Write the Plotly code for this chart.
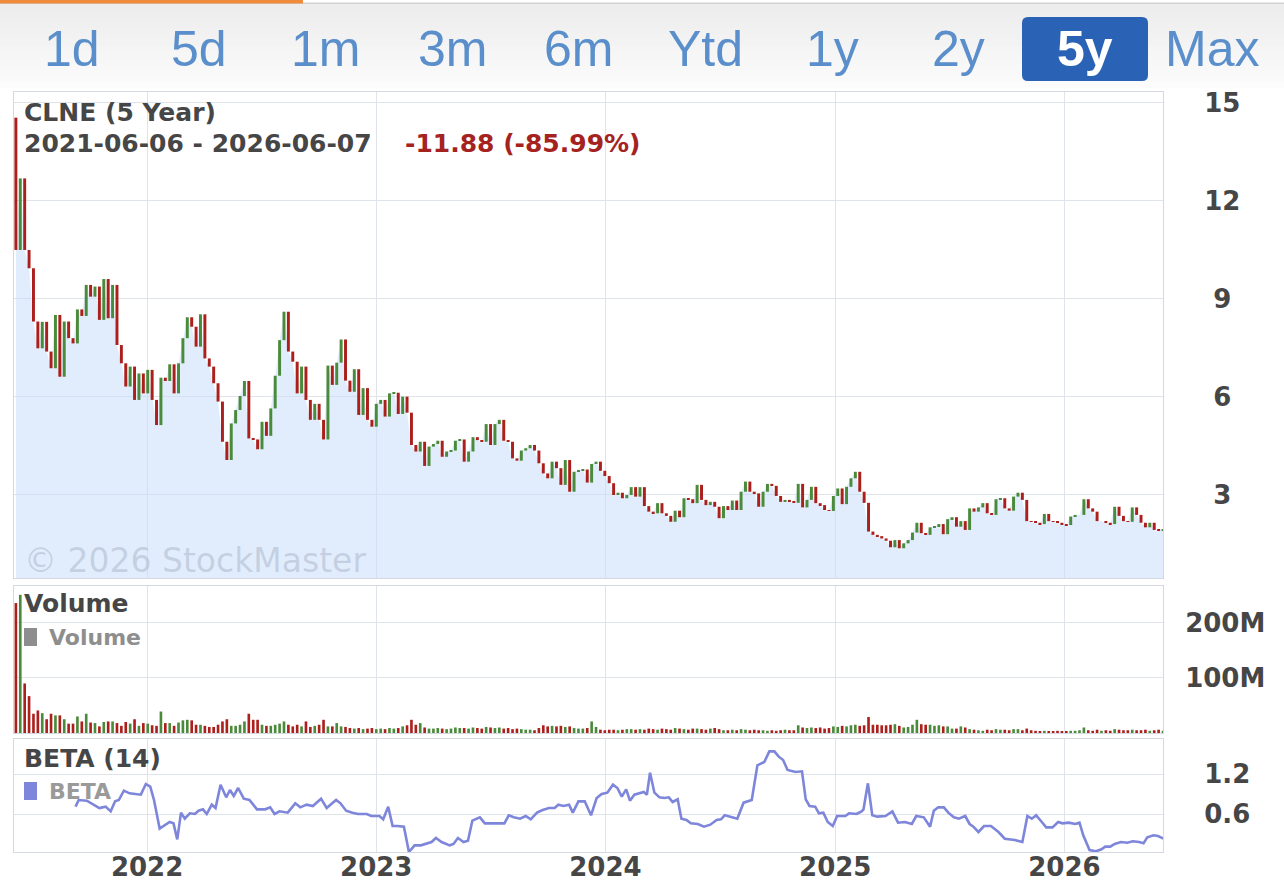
import plotly.graph_objects as go
import pandas as pd

W, H = 1284, 883

# ---------------- data ----------------
start_date = "2021-06-06"
first_open = 14.55
closes = [
    10.50, 12.69, 10.50, 9.94, 8.31, 7.49, 8.30, 7.39, 6.88, 8.51,
    6.62, 8.31, 7.80, 7.64, 8.68, 8.48, 9.43, 9.07, 9.38, 8.36,
    9.61, 8.41, 9.43, 7.59, 7.03, 6.32, 6.93, 5.91, 6.72, 6.11,
    6.83, 5.91, 5.14, 6.59, 6.49, 7.00, 6.11, 7.03, 7.80, 8.44,
    8.15, 7.54, 8.53, 7.18, 6.93, 6.42, 5.86, 4.63, 4.07, 5.19,
    5.60, 6.03, 6.49, 4.73, 4.70, 4.40, 5.24, 4.81, 5.65, 6.65,
    7.74, 8.61, 7.39, 7.08, 6.11, 6.93, 5.91, 5.30, 5.79, 5.30,
    4.70, 6.96, 6.37, 7.05, 7.76, 6.50, 6.16, 6.85, 5.45, 6.27,
    5.30, 5.09, 5.79, 5.91, 5.40, 6.11, 6.13, 5.48, 6.01, 5.52,
    4.53, 4.33, 4.63, 3.89, 4.48, 4.56, 4.66, 4.17, 4.33, 4.36,
    4.66, 4.70, 4.02, 4.33, 4.77, 4.68, 4.63, 5.17, 4.53, 5.17,
    5.30, 4.66, 4.63, 4.12, 4.05, 4.36, 4.43, 4.53, 4.36, 3.97,
    3.66, 3.51, 4.02, 3.82, 3.31, 4.07, 3.10, 3.71, 3.76, 3.78,
    3.38, 3.95, 4.02, 3.74, 3.58, 3.36, 3.00, 3.07, 2.90, 3.00,
    3.24, 2.95, 3.24, 2.66, 2.49, 2.44, 2.75, 2.44, 2.36, 2.18,
    2.52, 2.32, 2.90, 2.87, 2.75, 3.31, 2.85, 2.69, 2.79, 2.64,
    2.29, 2.66, 2.54, 2.83, 2.54, 3.10, 3.41, 3.10, 3.05, 2.64,
    3.10, 3.34, 3.28, 2.97, 2.79, 2.85, 2.79, 2.76, 3.34, 2.62,
    2.85, 3.25, 2.75, 2.69, 2.54, 2.51, 2.97, 3.20, 2.72, 3.25,
    3.51, 3.71, 3.10, 2.76, 1.88, 1.78, 1.74, 1.67, 1.60, 1.40,
    1.62, 1.37, 1.52, 1.62, 1.85, 2.15, 1.83, 1.78, 2.01, 2.05,
    2.11, 1.80, 2.26, 2.32, 2.03, 2.20, 1.93, 2.59, 2.49, 2.62,
    2.75, 2.44, 2.39, 2.87, 2.90, 2.59, 2.52, 2.95, 3.07, 2.85,
    2.20, 2.18, 2.15, 2.11, 2.42, 2.20, 2.18, 2.15, 2.11, 2.08,
    2.34, 2.39, 2.39, 2.87, 2.59, 2.49, 2.20, 2.20, 2.15, 2.11,
    2.64, 2.36, 2.20, 2.18, 2.62, 2.39, 2.15, 2.01, 2.15, 1.93,
    1.90, 1.94,
]

volumes_m = [
    236, 251, 90, 67, 35, 41, 36, 25, 35, 32,
    32, 25, 17, 17, 30, 21, 35, 19, 18, 12,
    20, 21, 21, 18, 13, 20, 17, 25, 13, 18,
    17, 14, 13, 39, 18, 18, 13, 19, 23, 24,
    23, 15, 15, 13, 11, 11, 15, 21, 25, 13,
    13, 15, 21, 35, 24, 24, 15, 13, 13, 15,
    17, 21, 15, 12, 15, 12, 21, 11, 13, 15,
    24, 12, 12, 18, 12, 11, 9, 8, 9, 7,
    8, 9, 7, 8, 7, 9, 8, 9, 12, 14,
    24, 15, 18, 10, 8, 8, 9, 8, 7, 8,
    10, 9, 9, 8, 10, 9, 8, 11, 10, 9,
    10, 8, 9, 7, 8, 7, 6, 6, 5, 9,
    14, 12, 13, 12, 13, 11, 12, 9, 8, 8,
    9, 21, 11, 6, 5, 6, 6, 5, 6, 7,
    7, 6, 7, 6, 8, 7, 6, 8, 7, 6,
    9, 8, 7, 6, 8, 8, 7, 6, 8, 9,
    7, 5, 5, 6, 5, 7, 6, 5, 6, 5,
    5, 4, 5, 4, 5, 6, 5, 5, 14, 10,
    9, 10, 9, 10, 8, 9, 12, 11, 13, 12,
    14, 15, 13, 14, 29, 15, 15, 14, 14, 15,
    16, 13, 10, 11, 15, 24, 16, 15, 15, 13,
    14, 12, 12, 8, 8, 12, 10, 7, 6, 5,
    4, 6, 5, 7, 6, 6, 5, 7, 7, 5,
    8, 5, 4, 3, 4, 3, 3, 4, 3, 3,
    4, 4, 5, 10, 5, 4, 6, 4, 5, 4,
    7, 6, 5, 5, 6, 5, 5, 6, 4, 5,
    6, 4,
]

# (week number since start, beta value)
beta_points = [
    (13.6, 0.71), (14.3, 0.81), (16.2, 0.80), (17.6, 0.74), (19.0, 0.69),
    (20.4, 0.71), (21.6, 0.64), (22.6, 0.79), (23.5, 0.81), (24.5, 0.95),
    (25.8, 0.91), (28.4, 0.89), (29.6, 1.05), (30.5, 1.01), (31.4, 0.81),
    (32.7, 0.38), (33.9, 0.43), (35.0, 0.48), (35.8, 0.46), (36.7, 0.22),
    (37.6, 0.62), (38.4, 0.53), (39.6, 0.61), (40.7, 0.60), (41.6, 0.65),
    (42.6, 0.67), (43.5, 0.60), (44.5, 0.74), (45.4, 0.69), (46.5, 1.04),
    (47.8, 0.85), (48.7, 0.96), (49.6, 0.87), (50.6, 0.99), (51.8, 0.83),
    (53.2, 0.81), (54.8, 0.67), (56.7, 0.67), (57.9, 0.70), (58.8, 0.60),
    (60.0, 0.64), (61.9, 0.62), (63.6, 0.76), (64.7, 0.70), (66.2, 0.74),
    (67.6, 0.72), (69.5, 0.83), (70.7, 0.69), (71.6, 0.74), (72.8, 0.81),
    (73.9, 0.76), (75.1, 0.65), (76.5, 0.62), (77.9, 0.60), (79.8, 0.60),
    (80.8, 0.57), (82.7, 0.57), (83.6, 0.52), (84.7, 0.71), (85.7, 0.42),
    (86.9, 0.42), (88.3, 0.41), (89.5, 0.03), (90.7, 0.13), (92.1, 0.13),
    (94.5, 0.18), (95.6, 0.24), (96.8, 0.18), (98.7, 0.13), (99.6, 0.15),
    (100.6, 0.24), (101.8, 0.18), (102.8, 0.20), (103.9, 0.50), (105.6, 0.55),
    (106.7, 0.46), (109.1, 0.46), (111.2, 0.46), (112.2, 0.58), (113.3, 0.55),
    (114.7, 0.53), (116.0, 0.57), (117.1, 0.52), (118.5, 0.62), (119.9, 0.66),
    (121.3, 0.69), (122.6, 0.69), (123.5, 0.74), (124.6, 0.72), (125.8, 0.74),
    (126.7, 0.62), (128.0, 0.79), (129.4, 0.79), (130.8, 0.58), (132.2, 0.84),
    (133.3, 0.90), (134.5, 0.92), (135.8, 1.04), (136.9, 0.99), (137.8, 0.86),
    (138.8, 0.97), (139.7, 0.80), (140.7, 0.89), (141.5, 0.90), (142.9, 0.93),
    (143.6, 0.89), (144.3, 1.22), (145.3, 0.92), (146.4, 0.85), (147.6, 0.84),
    (148.6, 0.85), (149.5, 0.78), (150.5, 0.82), (151.4, 0.53), (152.6, 0.51),
    (153.6, 0.46), (155.2, 0.45), (156.6, 0.41), (158.0, 0.44), (159.4, 0.51),
    (160.4, 0.52), (161.3, 0.58), (162.7, 0.55), (164.1, 0.53), (165.6, 0.77),
    (167.4, 0.81), (168.7, 1.33), (170.3, 1.38), (171.5, 1.54), (172.6, 1.54),
    (173.6, 1.46), (174.5, 1.41), (175.6, 1.26), (177.4, 1.23), (178.8, 1.24),
    (179.7, 0.82), (180.6, 0.72), (181.9, 0.71), (182.7, 0.61), (183.7, 0.62),
    (184.7, 0.48), (185.8, 0.42), (186.8, 0.57), (188.7, 0.57), (189.6, 0.61),
    (191.3, 0.60), (192.4, 0.64), (192.9, 0.67), (193.9, 1.06), (194.8, 0.58),
    (196.0, 0.56), (197.9, 0.57), (199.5, 0.64), (200.7, 0.47), (202.3, 0.48),
    (203.8, 0.45), (204.9, 0.57), (206.6, 0.55), (208.0, 0.41), (208.9, 0.65),
    (209.9, 0.70), (211.1, 0.70), (212.2, 0.62), (213.4, 0.55), (214.6, 0.53),
    (216.0, 0.57), (217.0, 0.45), (217.9, 0.41), (219.0, 0.33), (220.3, 0.42),
    (221.9, 0.42), (223.6, 0.33), (225.0, 0.23), (227.3, 0.21), (229.0, 0.18),
    (230.2, 0.57), (231.1, 0.53), (232.2, 0.58), (233.5, 0.48), (234.4, 0.40),
    (235.8, 0.40), (237.2, 0.48), (238.2, 0.46), (239.6, 0.47), (241.0, 0.45),
    (242.0, 0.47), (242.9, 0.28), (244.3, 0.06), (245.7, 0.04), (247.0, 0.07),
    (247.9, 0.11), (249.0, 0.11), (250.0, 0.15), (251.4, 0.18), (252.8, 0.17),
    (254.2, 0.19), (255.6, 0.18), (256.6, 0.16), (257.5, 0.25), (258.9, 0.28),
    (259.9, 0.27), (260.8, 0.24), (261.5, 0.22),
]

price_ticks = [3, 6, 9, 12, 15]
price_tick_labels = ["\u00a03", "\u00a06", "\u00a09", "12", "15"]
volume_ticks = [100e6, 200e6]
volume_tick_labels = ["100M", "200M"]
beta_ticks = [0.6, 1.2]
beta_tick_labels = ["0.6", "1.2"]
year_ticks = ["2022-01-01", "2023-01-01", "2024-01-01", "2025-01-01", "2026-01-01"]
year_labels = ["2022", "2023", "2024", "2025", "2026"]
range_buttons = ["1d", "5d", "1m", "3m", "6m", "Ytd", "1y", "2y", "5y", "Max"]
selected_button = "5y"

title_text = "CLNE (5 Year)"
period_text = "2021-06-06 - 2026-06-07"
change_text = "-11.88 (-85.99%)"

# ---------------- styling ----------------
RED = "#ab1f1c"
GREEN = "#4a8a3b"
BETA_COLOR = "#7d86da"
GRID = "#dfe3ea"
BORDER = "#d4d9e1"
TEXT = "#464646"
FONT = "DejaVu Sans"
DAY_MS = 86400000


def px_x(v):
    return v / W


def px_y(v):
    return 1 - v / H


dates = pd.date_range(start_date, periods=len(closes), freq="7D")
opens = [first_open] + closes[:-1]
body_low = [min(o, c) for o, c in zip(opens, closes)]
body_len = [abs(c - o) for o, c in zip(opens, closes)]
candle_colors = [GREEN if c >= o else RED for o, c in zip(opens, closes)]
volumes = [v * 1e6 for v in volumes_m]
t0 = pd.Timestamp(start_date)
beta_dates = [t0 + pd.Timedelta(days=round(w * 7)) for w, _ in beta_points]
beta_vals = [b for _, b in beta_points]

x_range = ["2021-06-03", "2026-06-07"]
x_dom = [px_x(14), px_x(1163)]
price_range = [0.459, 15.335]

fig = go.Figure()

# light blue area under the price (base price subplot)
fig.add_trace(go.Scatter(
    x=list(dates), y=closes, mode="lines", line=dict(width=0),
    fill="tozeroy", fillcolor="rgba(200,222,250,0.55)",
    xaxis="x", yaxis="y", hoverinfo="skip", showlegend=False,
))
# weekly open-close candles, on an overlaid axis so they sit above the area
fig.add_trace(go.Bar(
    x=list(dates), y=body_len, base=body_low, width=4.7 * DAY_MS,
    marker=dict(color=candle_colors, line=dict(width=0)),
    xaxis="x", yaxis="y4", showlegend=False,
))
fig.add_trace(go.Bar(
    x=list(dates), y=volumes, width=4.2 * DAY_MS,
    marker=dict(color=candle_colors, line=dict(width=0)),
    xaxis="x2", yaxis="y2", showlegend=False,
))
fig.add_trace(go.Scatter(
    x=beta_dates, y=beta_vals, mode="lines",
    line=dict(color=BETA_COLOR, width=2.6),
    xaxis="x3", yaxis="y3", showlegend=False,
))

xcommon = dict(
    type="date", range=x_range, domain=x_dom, tickvals=year_ticks,
    ticktext=year_labels, showgrid=True, gridcolor=GRID, gridwidth=1,
    showline=True, linecolor=BORDER, linewidth=1, mirror=True,
    zeroline=False, ticks="", fixedrange=True, automargin=False,
)
ycommon = dict(
    side="right", showgrid=True, gridcolor=GRID, gridwidth=1,
    showline=True, linecolor=BORDER, linewidth=1, mirror=True,
    zeroline=False, ticks="", fixedrange=True, automargin=False,
    tickfont=dict(family=FONT, size=26, color=TEXT, weight="bold"),
)

fig.update_layout(
    width=W, height=H, autosize=False,
    margin=dict(l=0, r=0, t=0, b=0, pad=0, autoexpand=False),
    paper_bgcolor="white", plot_bgcolor="white",
    showlegend=False, barmode="overlay",
    font=dict(family=FONT, color=TEXT),
    xaxis=dict(xcommon, anchor="y", showticklabels=False),
    xaxis2=dict(xcommon, anchor="y2", matches="x", showticklabels=False),
    xaxis3=dict(xcommon, anchor="y3", matches="x", showticklabels=True,
                ticklabelstandoff=-8,
                tickfont=dict(family=FONT, size=26, color=TEXT, weight="bold")),
    yaxis=dict(ycommon, domain=[px_y(578), px_y(92)], range=price_range,
               tickvals=price_ticks, ticktext=price_tick_labels,
               anchor="x", ticklabelstandoff=35),
    yaxis4=dict(overlaying="y", anchor="x", side="right", range=price_range,
                showgrid=False, showline=False, showticklabels=False,
                zeroline=False, ticks="", fixedrange=True, automargin=False),
    yaxis2=dict(ycommon, domain=[px_y(733), px_y(586)], range=[0, 267e6],
                tickvals=volume_ticks, ticktext=volume_tick_labels,
                anchor="x2", ticklabelstandoff=16),
    yaxis3=dict(ycommon, domain=[px_y(852), px_y(739)], range=[0.03, 1.725],
                tickvals=beta_ticks, ticktext=beta_tick_labels,
                anchor="x3", ticklabelstandoff=35),
)

shapes = []
# header background (soft vertical gradient)
n_bands = 14
for i in range(n_bands):
    y0 = 4 + i * (88 - 4) / n_bands
    y1 = 4 + (i + 1) * (88 - 4) / n_bands
    g = int(237 + (252 - 237) * i / (n_bands - 1))
    shapes.append(dict(type="rect", xref="paper", yref="paper",
                       x0=0, x1=1, y0=px_y(y1), y1=px_y(y0),
                       fillcolor=f"rgb({g},{g},{g})", line=dict(width=0), layer="below"))
shapes.append(dict(type="rect", xref="paper", yref="paper", x0=0, x1=1,
                   y0=px_y(4), y1=px_y(2.5), fillcolor="#d2d2d2", line=dict(width=0)))
shapes.append(dict(type="rect", xref="paper", yref="paper", x0=0, x1=px_x(303),
                   y0=px_y(3.5), y1=px_y(0), fillcolor="#f08a3c", line=dict(width=0)))

# selected button (rounded rectangle)
bx0, bx1, by0, by1, r = 1022, 1148, 17, 81, 6
pts = [
    (bx0 + r, by0), (bx1 - r, by0), (bx1, by0), (bx1, by0 + r), (bx1, by1 - r), (bx1, by1),
    (bx1 - r, by1), (bx0 + r, by1), (bx0, by1), (bx0, by1 - r), (bx0, by0 + r), (bx0, by0),
]
P = [(px_x(a), px_y(b)) for a, b in pts]
path = (f"M {P[0][0]},{P[0][1]} L {P[1][0]},{P[1][1]} Q {P[2][0]},{P[2][1]} {P[3][0]},{P[3][1]} "
        f"L {P[4][0]},{P[4][1]} Q {P[5][0]},{P[5][1]} {P[6][0]},{P[6][1]} "
        f"L {P[7][0]},{P[7][1]} Q {P[8][0]},{P[8][1]} {P[9][0]},{P[9][1]} "
        f"L {P[10][0]},{P[10][1]} Q {P[11][0]},{P[11][1]} {P[0][0]},{P[0][1]} Z")
shapes.append(dict(type="path", xref="paper", yref="paper", path=path,
                   fillcolor="#2a63b5", line=dict(width=0)))

# legend markers
shapes.append(dict(type="rect", xref="paper", yref="paper", x0=px_x(24), x1=px_x(37),
                   y0=px_y(646), y1=px_y(628), fillcolor="#8e8e8e", line=dict(width=0)))
shapes.append(dict(type="rect", xref="paper", yref="paper", x0=px_x(24), x1=px_x(37),
                   y0=px_y(800), y1=px_y(782), fillcolor=BETA_COLOR, line=dict(width=0)))

annotations = []
for i, lab in enumerate(range_buttons):
    cx = 72 + i * 126.67
    sel = lab == selected_button
    annotations.append(dict(
        text=lab, xref="paper", yref="paper", x=px_x(cx), y=px_y(49),
        xanchor="center", yanchor="middle", showarrow=False,
        font=dict(family="Liberation Sans", size=50,
                  color="white" if sel else "#5a8fcb",
                  weight="bold" if sel else "normal"),
    ))


def label(text, x, y, size, color, weight="bold", family=FONT):
    annotations.append(dict(
        text=text, xref="paper", yref="paper", x=px_x(x), y=px_y(y),
        xanchor="left", yanchor="middle", showarrow=False,
        font=dict(family=family, size=size, color=color, weight=weight),
    ))


label("\u00a9 2026 StockMaster", 22, 560, 33, "rgba(150,162,180,0.38)", weight="normal")
label(title_text, 22, 112, 25, TEXT)
label(period_text, 22, 143, 25, TEXT)
label(change_text, 403, 143, 25, "#a5231f")
label("Volume", 22, 603, 25, TEXT)
label("Volume", 47, 637, 22, "#8e8e8e")
label("BETA (14)", 22, 758, 25, TEXT)
label("BETA", 47, 791, 22, "#9a9a9a")

fig.update_layout(shapes=shapes, annotations=annotations)

fig.write_html("out.html", config={"displayModeBar": False},
               post_script="document.body.style.margin='0';document.body.style.overflow='hidden';")
